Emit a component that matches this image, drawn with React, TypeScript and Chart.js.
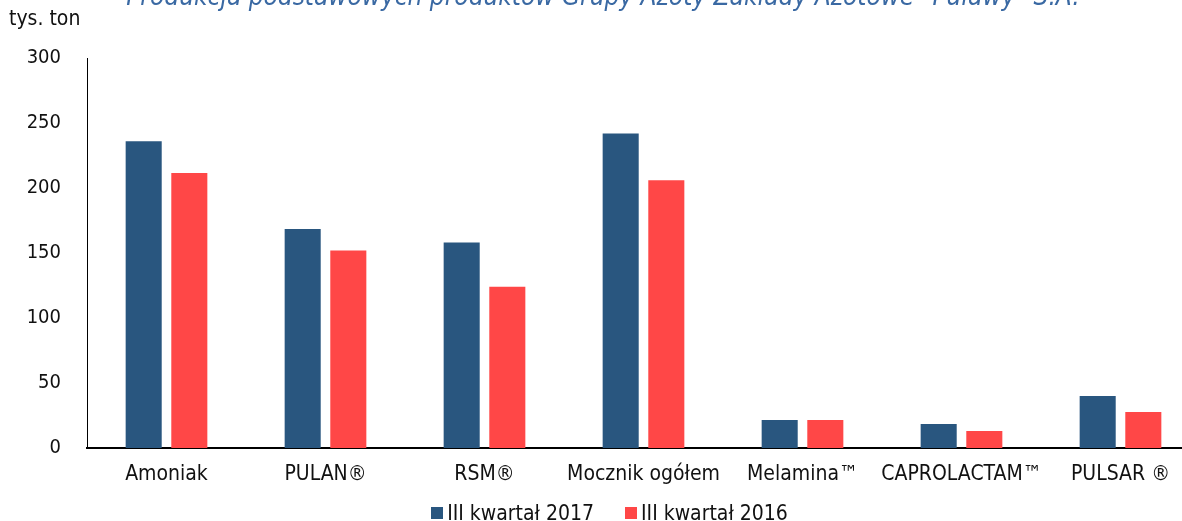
import React, { useEffect, useRef } from "react";
import { Chart, registerables } from "chart.js";

Chart.register(...registerables);

const categories = ["Amoniak", "PULAN®", "RSM®", "Mocznik ogółem", "Melamina™", "CAPROLACTAM™", "PULSAR ®"];
const series2017 = [236, 168.5, 158, 242, 21.5, 18.5, 40];
const series2016 = [211.5, 152, 124, 206, 21.5, 13, 27.7];
const seriesLabels = ["III kwartał 2017", "III kwartał 2016"];
const seriesColors = ["#29567f", "#ff4747"];
const titleText = "Produkcja podstawowych produktów Grupy Azoty Zakłady Azotowe \"Puławy\" S.A.";
const unitText = "tys. ton";

const FONT = "'DejaVu Sans Condensed', 'DejaVu Sans', sans-serif";

const overlayPlugin = {
  id: "overlayText",
  afterDraw(chart: any) {
    const ctx = chart.ctx;
    ctx.save();
    ctx.fillStyle = "#3a69a3";
    ctx.font = `italic 26px ${FONT}`;
    ctx.textAlign = "center";
    ctx.textBaseline = "alphabetic";
    ctx.fillText(titleText, 603, 5);
    ctx.fillStyle = "#111";
    ctx.font = `21px ${FONT}`;
    ctx.textAlign = "left";
    ctx.textBaseline = "middle";
    ctx.fillText(unitText, 9, 20);
    ctx.restore();
  },
};

export default function App() {
  const ref = useRef<HTMLCanvasElement | null>(null);
  useEffect(() => {
    if (!ref.current) return;
    const chart = new Chart(ref.current, {
      type: "bar",
      data: {
        labels: categories,
        datasets: [
          { label: seriesLabels[0], data: series2017, backgroundColor: seriesColors[0], borderWidth: 0 },
          { label: seriesLabels[1], data: series2016, backgroundColor: seriesColors[1], borderWidth: 0 },
        ],
      },
      options: {
        animation: false,
        responsive: false,
        devicePixelRatio: 1,
        datasets: { bar: { categoryPercentage: 0.574, barPercentage: 0.79 } },
        layout: { padding: { top: 58, bottom: 33, left: 0, right: 0 } },
        plugins: {
          title: { display: false },
          tooltip: { enabled: false },
          legend: { display: false },
        },
        scales: {
          x: {
            grid: { display: false, drawTicks: false },
            border: { display: true, color: "#000", width: 2 },
            ticks: { color: "#111", font: { family: FONT, size: 21 }, padding: 14, maxRotation: 0, autoSkip: false },
            afterFit: (s: any) => { s.height = 40; },
          },
          y: {
            min: 0,
            max: 300,
            grid: { display: false, drawTicks: false },
            border: { display: true, color: "#000", width: 1 },
            ticks: { stepSize: 50, color: "#111", font: { family: FONT, size: 20 }, padding: 26 },
            afterFit: (s: any) => { s.width = 87; },
          },
        },
      },
      plugins: [overlayPlugin],
    });
    return () => chart.destroy();
  }, []);
  return (
    <div style={{ position: "fixed", left: 0, top: 0, width: 1200, height: 521, background: "#fff", overflow: "hidden" }}>
      <canvas ref={ref} width={1200} height={521} style={{ width: 1200, height: 521, display: "block" }} />
      <div
        style={{
          position: "absolute",
          left: 0,
          top: 501,
          width: 1219,
          display: "flex",
          justifyContent: "center",
          gap: 31,
          fontFamily: FONT,
          fontSize: 21,
          lineHeight: "24px",
          color: "#111",
          whiteSpace: "nowrap",
        }}
      >
        {seriesLabels.map((l, i) => (
          <div key={l} style={{ display: "flex", alignItems: "center" }}>
            <span style={{ display: "inline-block", width: 12, height: 12, background: seriesColors[i], marginRight: 4 }} />
            <span>{l}</span>
          </div>
        ))}
      </div>
    </div>
  );
}
